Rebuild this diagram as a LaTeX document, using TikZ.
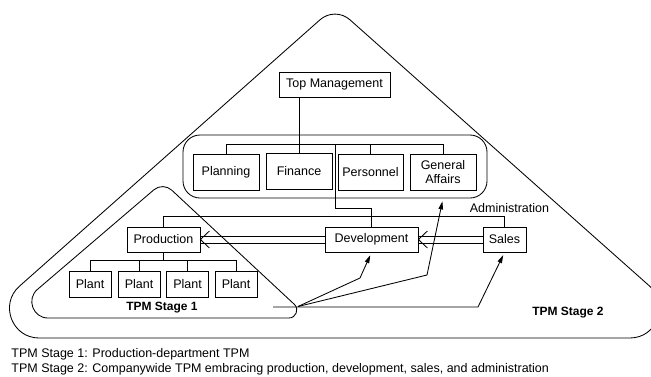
\documentclass[tikz,border=0pt]{standalone}
\usepackage{fontspec}
\setmainfont{Liberation Sans}
\usetikzlibrary{arrows.meta,calc}
\begin{document}
\begin{tikzpicture}[x=1pt,y=-1pt,line width=0.85pt,
  every node/.style={inner sep=0pt,font=\fontsize{12.5}{14}\selectfont},
  unit/.style={draw,minimum width=#1,minimum height=25pt},
  dept/.style={draw,minimum width=66pt,minimum height=36pt,align=center},
  plant/.style={draw,minimum width=42pt,minimum height=26pt},
  stagelabel/.style={font=\fontsize{12}{14}\selectfont\bfseries},
  caption/.style={anchor=west,font=\fontsize{12.5}{14}\selectfont},
  spread/.style={-{Triangle[length=8pt,width=4.5pt]},shorten >=3pt}]

\useasboundingbox (0,0) rectangle (651,376);
\fill[white] (0,0) rectangle (651,376);

% outer region: company-wide TPM (triangle with arc-like corners)
\coordinate (A) at (335,6.5);
\coordinate (L) at (-39,338);
\coordinate (R) at (708,338);
\draw ($(L)!78pt!(A)$) -- ($(A)!20pt!(L)$)
  .. controls ($(A)!8.6pt!(L)$) and ($(A)!8.6pt!(R)$) .. ($(A)!20pt!(R)$)
  -- ($(R)!78pt!(A)$)
  .. controls ($(R)!51pt!(A)$) and ($(R)!51pt!(L)$) .. ($(R)!78pt!(L)$)
  -- ($(L)!78pt!(R)$)
  .. controls ($(L)!51pt!(R)$) and ($(L)!51pt!(A)$) .. ($(L)!78pt!(A)$)
  -- cycle;

% inner region: production-department TPM
\coordinate (a) at (163,182);
\coordinate (l) at (4,318);
\coordinate (r) at (309,318);
\draw ($(l)!44pt!(a)$) -- ($(a)!12pt!(l)$)
  .. controls ($(a)!5.2pt!(l)$) and ($(a)!5.2pt!(r)$) .. ($(a)!12pt!(r)$)
  -- ($(r)!20pt!(a)$)
  .. controls ($(r)!13pt!(a)$) and ($(r)!13pt!(l)$) .. ($(r)!20pt!(l)$)
  -- ($(l)!44pt!(r)$)
  .. controls ($(l)!29pt!(r)$) and ($(l)!29pt!(a)$) .. ($(l)!44pt!(a)$)
  -- cycle;

% administration group
\node[draw,rounded corners=17pt,minimum width=304pt,minimum height=63pt] (admin) at (335,166.5) {};
\node[unit=111pt] (top) at (334.5,84.5) {Top Management};
\node[dept] (planning) at (226,172) {Planning};
\node[dept] (finance) at (299,171.5) {Finance};
\node[dept,minimum width=65pt] (personnel) at (370.5,172) {Personnel};
\node[dept] (affairs) at (443,172) {General\\Affairs};

% line departments
\node[unit=73pt] (production) at (163.5,239.5) {Production};
\node[unit=93pt] (development) at (371.5,239.5) {Development};
\node[unit=43pt] (sales) at (504.5,239.5) {Sales};
\node (adminlabel) at (509.5,208) {Administration};

\node[plant] (p1) at (90,284) {Plant};
\node[plant] (p2) at (139,284) {Plant};
\node[plant] (p3) at (187.5,284) {Plant};
\node[plant] (p4) at (236,284) {Plant};

\node[stagelabel] (s1) at (162,308) {TPM Stage 1};
\node[stagelabel] (s2) at (568,313) {TPM Stage 2};

% organisation tree
\draw (finance.north |- top.south) -- (finance.north);
\draw (planning.north) -- ++(0,-9) -| (affairs.north);
\draw (personnel.north) -- ++(0,-9);
\coordinate (tap) at (335,145);
\draw (tap) -- ++(0,63) -| (development.north);
\draw (production.north) -- ++(0,-10) -| (sales.north);
\draw (production.south) -- ++(0,9);
\draw (p1.north) -- ++(0,-10) -| (p4.north);
\draw (p2.north) -- ++(0,-10);
\draw (p3.north) -- ++(0,-10);

% flow between line departments (double lines with open heads)
\foreach \f/\t in {development/production,sales/development}{
  \draw ($(\f.west)+(0,-3.5)$) -- ($(\t.east)+(0,-3.5)$);
  \draw ($(\f.west)+(0,3.5)$) -- ($(\t.east)+(0,3.5)$);
  \draw ($(\t.east)+(9,-8.5)$) -- (\t.east) -- ($(\t.east)+(9,8.5)$);
}

% spreading from stage 1 to the whole company
\coordinate (stub) at (273,307);
\coordinate (src) at (298,306.5);
\coordinate (k1) at (360,278);
\coordinate (k2) at (427,275);
\coordinate (k3) at (478,307);
\draw[spread] (stub) -- (k3) -- (sales.south);
\draw[spread] (src) -- (k1) -- (development.south);
\draw[spread] (src) -- (k2) -- (admin.south -| affairs.south);

\node[caption] (c1) at (11,354.5) {TPM Stage 1: Production-department TPM};
\node[caption] (c2) at (11,369.5) {TPM Stage 2: Companywide TPM embracing production, development, sales, and administration};
\end{tikzpicture}
\end{document}
